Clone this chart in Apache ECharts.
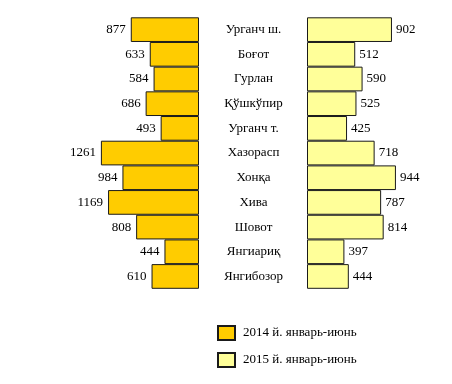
<!DOCTYPE html>
<html><head><meta charset="utf-8">
<script src="https://cdn.jsdelivr.net/npm/echarts@6/dist/echarts.min.js"></script>
<style>html,body{margin:0;padding:0;background:#fff}#c{width:452px;height:384px}</style>
</head><body><div id="c"></div>
<script>
const categories = ['Урганч ш.','Боғот','Гурлан','Қўшкўпир','Урганч т.','Хазорасп','Хонқа','Хива','Шовот','Янгиариқ','Янгибозор'];
const values2014 = [877,633,584,686,493,1261,984,1169,808,444,610];
const values2015 = [902,512,590,525,425,718,944,787,814,397,444];
const seriesNames = ['2014 й. январь-июнь','2015 й. январь-июнь'];

const FONT = '"Liberation Serif", "Times New Roman", serif';
const chart = echarts.init(document.getElementById('c'), null, {renderer:'canvas'});
const gridTop = 17.3, gridH = 271.5;
chart.setOption({
  animation:false,
  backgroundColor:'#fff',
  textStyle:{fontFamily:FONT},
  grid:[
    {left:43.4, width:155.6, top:gridTop, height:gridH},
    {left:307, width:94.2, top:gridTop, height:gridH}
  ],
  xAxis:[
    {gridIndex:0, type:'value', min:0, max:2000, inverse:true, show:false},
    {gridIndex:1, type:'value', min:0, max:1000, show:false}
  ],
  yAxis:[
    {gridIndex:0, type:'category', data:categories, inverse:true, show:false},
    {gridIndex:1, type:'category', data:categories, inverse:true,
     axisLine:{show:false}, axisTick:{show:false}, splitLine:{show:false},
     axisLabel:{align:'center', margin:53.5, color:'#000', fontSize:13, fontFamily:FONT}}
  ],
  legend:{
    orient:'vertical', left:217, top:325, padding:0, itemWidth:17, itemHeight:14, itemGap:11,
    icon:'rect', data:seriesNames,
    textStyle:{color:'#000', fontSize:13, lineHeight:14, fontFamily:FONT, padding:[0,0,0,3]}
  },
  series:[
    {name:seriesNames[0], type:'bar', xAxisIndex:0, yAxisIndex:0, data:values2014,
     barCategoryGap:'0%',
     itemStyle:{color:'#FFCC00', borderColor:'#1a1a1a', borderWidth:1},
     label:{show:true, position:'left', distance:5, color:'#000', fontSize:13, fontFamily:FONT}},
    {name:seriesNames[1], type:'bar', xAxisIndex:1, yAxisIndex:1, data:values2015,
     barCategoryGap:'0%',
     itemStyle:{color:'#FFFF99', borderColor:'#1a1a1a', borderWidth:1},
     label:{show:true, position:'right', distance:4, color:'#000', fontSize:13, fontFamily:FONT}}
  ]
});
</script></body></html>
